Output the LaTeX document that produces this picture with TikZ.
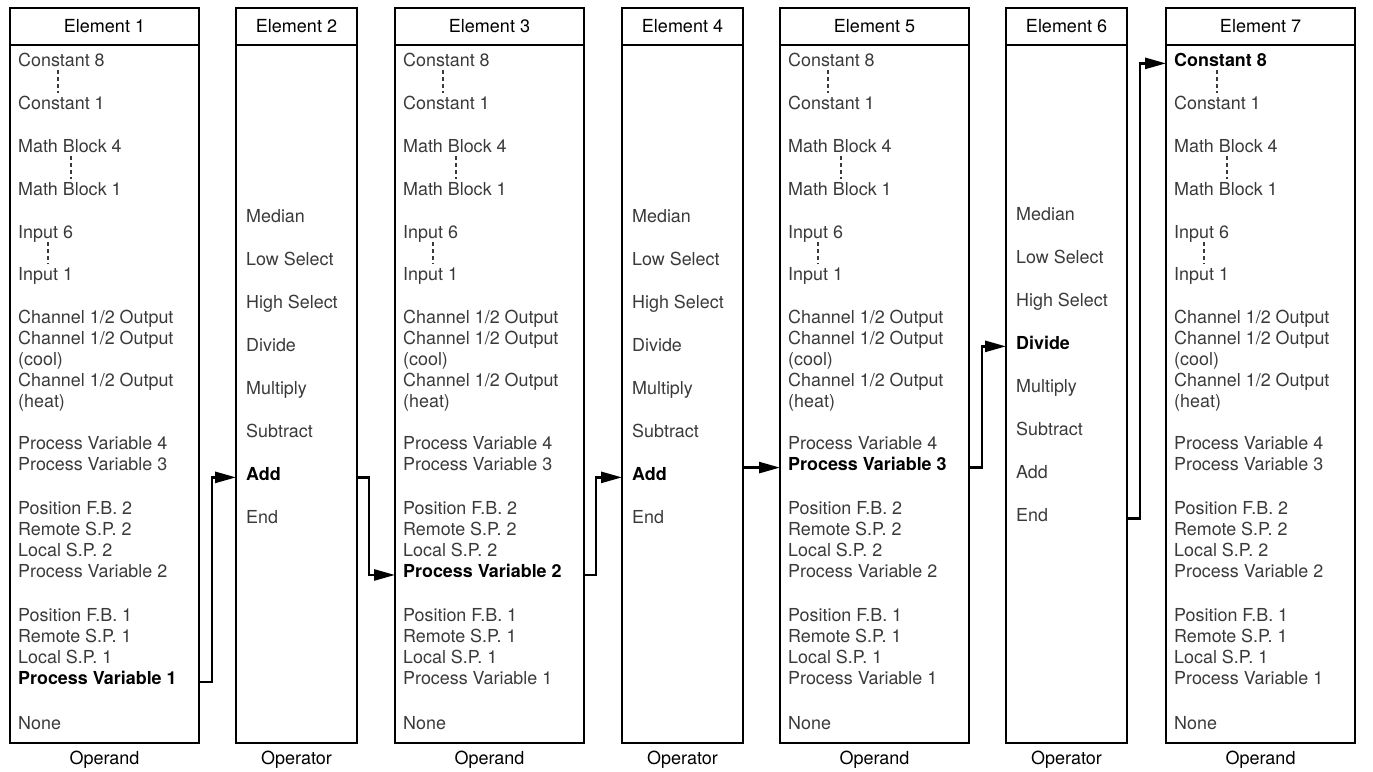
\documentclass[tikz,border=0pt]{standalone}
\usepackage{fontspec}
\setmainfont{TeX Gyre Heros}
\usetikzlibrary{positioning,arrows.meta}
\definecolor{txtgray}{HTML}{3A3A3A}
\begin{document}
\begin{tikzpicture}[x=1pt, y=-1pt,
    element/.style={draw, line width=2.9pt, anchor=north west, inner sep=0pt, outer sep=0pt, minimum height=735pt},
    operand/.style={element, minimum width=189pt},
    operator/.style={element, minimum width=121pt},
    head/.style={draw, line width=1.4pt, anchor=north, minimum height=37pt, inner sep=0pt, outer sep=0pt, font=\fontsize{18}{21}\selectfont},
    foot/.style={inner sep=0pt, font=\fontsize{18}{21}\selectfont},
    item/.style={anchor=base west, inner sep=0pt, align=left, text=txtgray, font=\fontsize{17.9}{21.2}\selectfont},
    pick/.style={item, text=black, font=\fontsize{17.9}{21.2}\selectfont\bfseries},
    dots/.style={draw=txtgray, line width=1.1pt, dash pattern=on 4pt off 3pt},
    link/.style={draw, line width=2.6pt, -{Triangle[length=21pt,width=11pt]}}]

  \useasboundingbox (0,0) rectangle (1373,771);

  % boxes
  \node[operand]  (e1) at (10,8)   {};
  \node[operator] (e2) at (236,8)  {};
  \node[operand]  (e3) at (395,8)  {};
  \node[operator] (e4) at (622,8)  {};
  \node[operand]  (e5) at (780,8)  {};
  \node[operator] (e6) at (1006,8) {};
  \node[operand]  (e7) at (1166,8) {};

  \node[head, minimum width=189pt] (h1) at (e1.north) {Element 1};
  \node[head, minimum width=121pt] (h2) at (e2.north) {Element 2};
  \node[head, minimum width=189pt] (h3) at (e3.north) {Element 3};
  \node[head, minimum width=121pt] (h4) at (e4.north) {Element 4};
  \node[head, minimum width=189pt] (h5) at (e5.north) {Element 5};
  \node[head, minimum width=121pt] (h6) at (e6.north) {Element 6};
  \node[head, minimum width=189pt] (h7) at (e7.north) {Element 7};

  \node[foot] (f1) [below=8pt of e1] {Operand};
  \node[foot] (f2) [below=8pt of e2] {Operator};
  \node[foot] (f3) [below=8pt of e3] {Operand};
  \node[foot] (f4) [below=8pt of e4] {Operator};
  \node[foot] (f5) [below=8pt of e5] {Operand};
  \node[foot] (f6) [below=8pt of e6] {Operator};
  \node[foot] (f7) [below=8pt of e7] {Operand};

  % element 1 (multi-line nodes sit on their last line)
  \node[item] (e1c8) at (18,66)  {Constant 8};
  \node[item] (e1c1) at (18,109) {Constant 1};
  \node[item] (e1m4) at (18,152) {Math Block 4};
  \node[item] (e1m1) at (18,195) {Math Block 1};
  \node[item] (e1i6) at (18,238) {Input 6};
  \node[item] (e1i1) at (18,280) {Input 1};
  \node[item] (e1ch) at (18,407.8) {Channel 1/2 Output\\Channel 1/2 Output\\(cool)\\Channel 1/2 Output\\(heat)};
  \node[item] (e1pv) at (18,470.2) {Process Variable 4\\Process Variable 3};
  \node[item] (e1p2) at (18,577.6) {Position F.B. 2\\Remote S.P. 2\\Local S.P. 2\\Process Variable 2};
  \node[item] (e1p1) at (18,663.4) {Position F.B. 1\\Remote S.P. 1\\Local S.P. 1};
  \node[pick] (e1sel) at (18,684.6) {Process Variable 1};
  \node[item] (e1no) at (18,729) {None};

  % element 2
  \node[item] (e2md) at (246,222) {Median};
  \node[item] (e2lo) at (246,265) {Low Select};
  \node[item] (e2hi) at (246,308) {High Select};
  \node[item] (e2dv) at (246,351) {Divide};
  \node[item] (e2mu) at (246,394) {Multiply};
  \node[item] (e2su) at (246,437) {Subtract};
  \node[pick] (e2add) at (246,480) {Add};
  \node[item] (e2end) at (246,523) {End};

  % element 3
  \node[item] (e3c8) at (403,66)  {Constant 8};
  \node[item] (e3c1) at (403,109) {Constant 1};
  \node[item] (e3m4) at (403,152) {Math Block 4};
  \node[item] (e3m1) at (403,195) {Math Block 1};
  \node[item] (e3i6) at (403,238) {Input 6};
  \node[item] (e3i1) at (403,280) {Input 1};
  \node[item] (e3ch) at (403,407.8) {Channel 1/2 Output\\Channel 1/2 Output\\(cool)\\Channel 1/2 Output\\(heat)};
  \node[item] (e3pv) at (403,470.2) {Process Variable 4\\Process Variable 3};
  \node[item] (e3p2) at (403,556.4) {Position F.B. 2\\Remote S.P. 2\\Local S.P. 2};
  \node[pick] (e3sel) at (403,577.6) {Process Variable 2};
  \node[item] (e3p1) at (403,684.6) {Position F.B. 1\\Remote S.P. 1\\Local S.P. 1\\Process Variable 1};
  \node[item] (e3no) at (403,729) {None};

  % element 4
  \node[item] (e4md) at (632,222) {Median};
  \node[item] (e4lo) at (632,265) {Low Select};
  \node[item] (e4hi) at (632,308) {High Select};
  \node[item] (e4dv) at (632,351) {Divide};
  \node[item] (e4mu) at (632,394) {Multiply};
  \node[item] (e4su) at (632,437) {Subtract};
  \node[pick] (e4add) at (632,480) {Add};
  \node[item] (e4end) at (632,523) {End};

  % element 5
  \node[item] (e5c8) at (788,66)  {Constant 8};
  \node[item] (e5c1) at (788,109) {Constant 1};
  \node[item] (e5m4) at (788,152) {Math Block 4};
  \node[item] (e5m1) at (788,195) {Math Block 1};
  \node[item] (e5i6) at (788,238) {Input 6};
  \node[item] (e5i1) at (788,280) {Input 1};
  \node[item] (e5ch) at (788,407.8) {Channel 1/2 Output\\Channel 1/2 Output\\(cool)\\Channel 1/2 Output\\(heat)};
  \node[item] (e5pv) at (788,449) {Process Variable 4};
  \node[pick] (e5sel) at (788,470.2) {Process Variable 3};
  \node[item] (e5p2) at (788,577.6) {Position F.B. 2\\Remote S.P. 2\\Local S.P. 2\\Process Variable 2};
  \node[item] (e5p1) at (788,684.6) {Position F.B. 1\\Remote S.P. 1\\Local S.P. 1\\Process Variable 1};
  \node[item] (e5no) at (788,729) {None};

  % element 6
  \node[item] (e6md) at (1016,220) {Median};
  \node[item] (e6lo) at (1016,263) {Low Select};
  \node[item] (e6hi) at (1016,306) {High Select};
  \node[pick] (e6dv) at (1016,349) {Divide};
  \node[item] (e6mu) at (1016,392) {Multiply};
  \node[item] (e6su) at (1016,435) {Subtract};
  \node[item] (e6add) at (1016,478) {Add};
  \node[item] (e6end) at (1016,521) {End};

  % element 7
  \node[pick] (e7c8) at (1174,66)  {Constant 8};
  \node[item] (e7c1) at (1174,109) {Constant 1};
  \node[item] (e7m4) at (1174,152) {Math Block 4};
  \node[item] (e7m1) at (1174,195) {Math Block 1};
  \node[item] (e7i6) at (1174,238) {Input 6};
  \node[item] (e7i1) at (1174,280) {Input 1};
  \node[item] (e7ch) at (1174,407.8) {Channel 1/2 Output\\Channel 1/2 Output\\(cool)\\Channel 1/2 Output\\(heat)};
  \node[item] (e7pv) at (1174,470.2) {Process Variable 4\\Process Variable 3};
  \node[item] (e7p2) at (1174,577.6) {Position F.B. 2\\Remote S.P. 2\\Local S.P. 2\\Process Variable 2};
  \node[item] (e7p1) at (1174,684.6) {Position F.B. 1\\Remote S.P. 1\\Local S.P. 1\\Process Variable 1};
  \node[item] (e7no) at (1174,729) {None};

  % dotted ranges
  \draw[dots] ([xshift=40pt,yshift=-4pt]e1c8.base west) -- ([xshift=40pt,yshift=16pt]e1c1.base west);
  \draw[dots] ([xshift=53pt,yshift=-4pt]e1m4.base west) -- ([xshift=53pt,yshift=16pt]e1m1.base west);
  \draw[dots] ([xshift=30pt,yshift=-4pt]e1i6.base west) -- ([xshift=30pt,yshift=16pt]e1i1.base west);
  \draw[dots] ([xshift=40pt,yshift=-4pt]e3c8.base west) -- ([xshift=40pt,yshift=16pt]e3c1.base west);
  \draw[dots] ([xshift=53pt,yshift=-4pt]e3m4.base west) -- ([xshift=53pt,yshift=16pt]e3m1.base west);
  \draw[dots] ([xshift=30pt,yshift=-4pt]e3i6.base west) -- ([xshift=30pt,yshift=16pt]e3i1.base west);
  \draw[dots] ([xshift=40pt,yshift=-4pt]e5c8.base west) -- ([xshift=40pt,yshift=16pt]e5c1.base west);
  \draw[dots] ([xshift=53pt,yshift=-4pt]e5m4.base west) -- ([xshift=53pt,yshift=16pt]e5m1.base west);
  \draw[dots] ([xshift=30pt,yshift=-4pt]e5i6.base west) -- ([xshift=30pt,yshift=16pt]e5i1.base west);
  \draw[dots] ([xshift=43pt,yshift=-4pt]e7c8.base west) -- ([xshift=43pt,yshift=16pt]e7c1.base west);
  \draw[dots] ([xshift=53pt,yshift=-4pt]e7m4.base west) -- ([xshift=53pt,yshift=16pt]e7m1.base west);
  \draw[dots] ([xshift=30pt,yshift=-4pt]e7i6.base west) -- ([xshift=30pt,yshift=16pt]e7i1.base west);

  % selections
  \draw[link] (e1.east |- e1sel.mid) -- ++(13,0) |- (e2.west |- e2add.mid);
  \draw[link] (e2.east |- e2add.mid) -- ++(12,0) |- (e3.west |- e3sel.mid);
  \draw[link] (e3.east |- e3sel.mid) -- ++(12,0) |- (e4.west |- e4add.mid);
  \draw[link] (e4.east |- e5sel.mid) -- (e5.west |- e5sel.mid);
  \draw[link] (e5.east |- e5sel.mid) -- ++(13,0) |- (e6.west |- e6dv.mid);
  \draw[link] (e6.east |- e6end.mid) -- ++(13,0) |- (e7.west |- e7c8.mid);

\end{tikzpicture}
\end{document}
